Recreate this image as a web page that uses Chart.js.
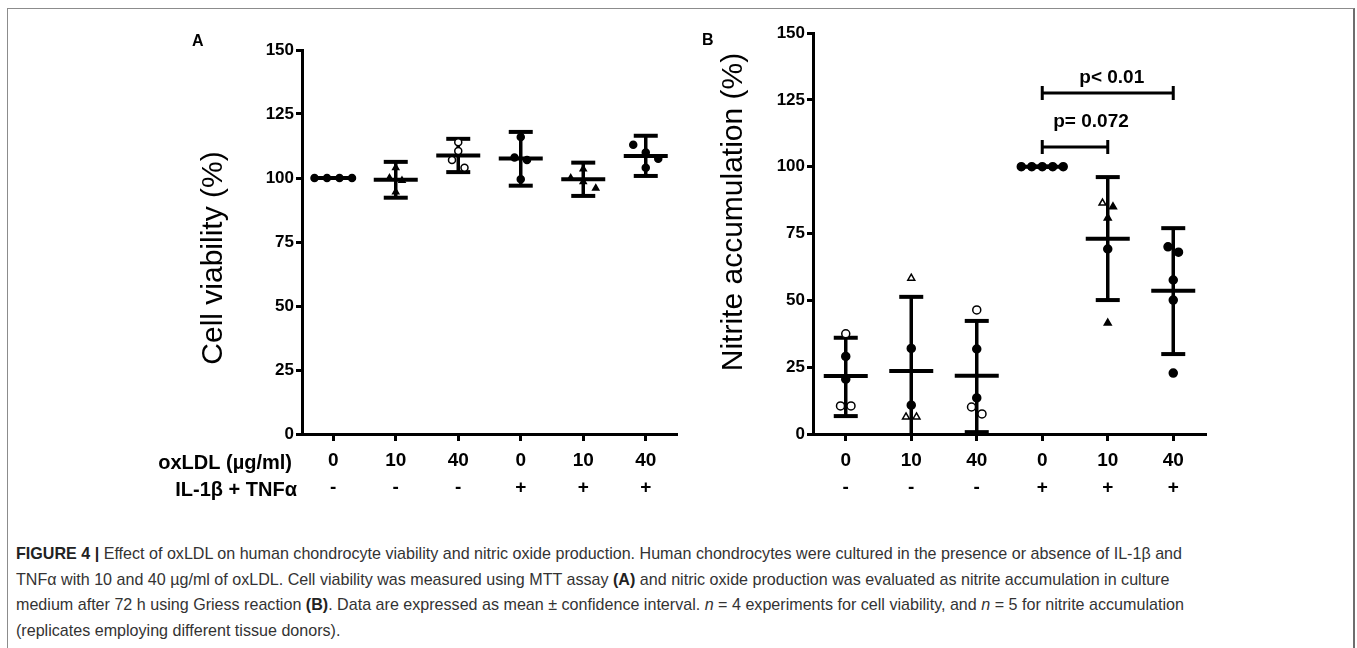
<!DOCTYPE html>
<html>
<head>
<meta charset="utf-8">
<script src="https://cdn.jsdelivr.net/npm/chart.js@4.4.1/dist/chart.umd.min.js"></script>
<style>
  html, body { margin: 0; padding: 0; background: #fff; }
  #page { position: relative; width: 1357px; height: 648px; overflow: hidden; font-family: "Liberation Sans", Arial, sans-serif; }
  #frame { position: absolute; left: 7px; top: 8px; width: 1345px; height: 700px; border: 1.5px solid #8c8c8c; border-right: 2px solid #6e6e6e; }
  .panel { position: absolute; }
  #panelA { left: 140px; top: 20px; width: 560px; height: 480px; }
  #panelB { left: 700px; top: 10px; width: 560px; height: 490px; }
  .letter { position: absolute; font: bold 16px "Liberation Sans", Arial, sans-serif; color: #000; }
  #caption { position: absolute; left: 16px; top: 541px; white-space: nowrap; color: #333;
    font-family: "Liberation Sans Narrow", "Arial Narrow", "Liberation Sans", sans-serif; font-size: 16.1px; line-height: 25.5px; }
  #caption b { color: #222; }
</style>
</head>
<body>
<div id="page">
  <div id="frame"></div>
  <div class="panel" id="panelA"><canvas id="chartA"></canvas></div>
  <div class="panel" id="panelB"><canvas id="chartB"></canvas></div>
  <div class="letter" style="left:192px; top:32px;">A</div>
  <div class="letter" style="left:702px; top:31px;">B</div>
  <div id="caption">
    <b>FIGURE 4 |</b> Effect of oxLDL on human chondrocyte viability and nitric oxide production. Human chondrocytes were cultured in the presence or absence of IL-1β and<br>
    TNFα with 10 and 40 µg/ml of oxLDL. Cell viability was measured using MTT assay <b>(A)</b> and nitric oxide production was evaluated as nitrite accumulation in culture<br>
    medium after 72 h using Griess reaction <b>(B)</b>. Data are expressed as mean ± confidence interval. <i>n</i> = 4 experiments for cell viability, and <i>n</i> = 5 for nitrite accumulation<br>
    (replicates employing different tissue donors).
  </div>
</div>
<script>
// x categories
const doseLabels = ['0', '10', '40', '0', '10', '40'];
const cytokineLabels = ['-', '-', '-', '+', '+', '+'];

// panel A: cell viability (%)
const viabilityPoints = [
  [100, 100, 100, 100],
  [104, 100, 99, 94.5],
  [114, 110.5, 107, 104],
  [116, 108, 107, 99.5],
  [103.5, 100, 98.5, 96],
  [113, 110, 107.5, 104]
];
const viabilityMean = [100, 99.3, 108.8, 107.6, 99.5, 108.6];
const viabilityLow = [100, 92.3, 102.3, 97, 93, 100.8];
const viabilityHigh = [100, 106.3, 115.3, 118, 106, 116.5];

// panel B: nitrite accumulation (%)
const nitritePoints = [
  [37.5, 29, 20.5, 10.5, 10.5],
  [58.3, 32, 10.8, 6.4, 6.4],
  [46.4, 31.8, 13.5, 10.1, 7.5],
  [100, 100, 100, 100, 100],
  [86.4, 85, 80.8, 69.2, 41.5],
  [70, 68, 57.6, 50.1, 22.8]
];
const nitriteMean = [21.7, 23.6, 21.8, 100, 73, 53.6];
const nitriteLow = [6.7, -4, 0.7, 100, 50.1, 29.9];
const nitriteHigh = [36, 51.3, 42.3, 100, 96.1, 77];

// significance brackets (group index from -> to, level in %)
const brackets = [
  { from: 3, to: 4, level: 107.4, text: 'p= 0.072' },
  { from: 3, to: 5, level: 127.6, text: 'p< 0.01' }
];

// marker shapes
const viabilityMarkers = [
  ['dot', 'dot', 'dot', 'dot'],
  ['tri', 'tri', 'tri', 'tri'],
  ['ring', 'ring', 'ring', 'ring'],
  ['dot', 'dot', 'dot', 'dot'],
  ['tri', 'tri', 'tri', 'tri'],
  ['dot', 'dot', 'dot', 'dot']
];
const nitriteMarkers = [
  ['ring', 'dot', 'dot', 'ring', 'ring'],
  ['triOpen', 'dot', 'dot', 'triOpen', 'triOpen'],
  ['ring', 'dot', 'dot', 'ring', 'ring'],
  ['dot', 'dot', 'dot', 'dot', 'dot'],
  ['triOpen', 'tri', 'tri', 'dot', 'tri'],
  ['dot', 'dot', 'dot', 'dot', 'dot']
];

const FONT = '"Liberation Sans", Arial, sans-serif';

// spread points with close values side by side, like a column scatter
function spread(values, step, thresh) {
  const order = values.map((v, i) => i).sort((a, b) => values[b] - values[a]);
  const off = new Array(values.length).fill(0);
  let cluster = [order[0]];
  const flush = () => {
    const k = cluster.length;
    cluster.forEach((j, n) => { off[j] = (n - (k - 1) / 2) * step; });
  };
  for (let n = 1; n < order.length; n++) {
    const last = cluster[cluster.length - 1];
    if (values[last] - values[order[n]] <= thresh) cluster.push(order[n]);
    else { flush(); cluster = [order[n]]; }
  }
  flush();
  return off;
}

function buildDataset(groups, markers, step, radius) {
  const data = [], styles = [], fills = [];
  groups.forEach((vals, g) => {
    const off = spread(vals, step, 3);
    vals.forEach((v, i) => {
      data.push({ x: g + off[i], y: v });
      const m = markers[g][i];
      styles.push(m === 'tri' || m === 'triOpen' ? 'triangle' : 'circle');
      fills.push(m === 'ring' || m === 'triOpen' ? '#fff' : '#000');
    });
  });
  return {
    data,
    pointStyle: styles,
    backgroundColor: fills,
    borderColor: '#000',
    borderWidth: 1.5,
    pointRadius: radius,
    showLine: false
  };
}

const errorBars = {
  id: 'errorBars',
  beforeDatasetsDraw(chart, args, opts) {
    const { ctx, scales: { x, y } } = chart;
    ctx.save();
    ctx.strokeStyle = '#000';
    opts.mean.forEach((m, i) => {
      const cx = x.getPixelForValue(i);
      const lo = y.getPixelForValue(Math.max(opts.low[i], 0));
      const hi = y.getPixelForValue(opts.high[i]);
      const my = y.getPixelForValue(m);
      ctx.lineWidth = 3.5;
      ctx.beginPath(); ctx.moveTo(cx, lo); ctx.lineTo(cx, hi); ctx.stroke();
      ctx.lineWidth = 4;
      ctx.beginPath(); ctx.moveTo(cx - 12, hi); ctx.lineTo(cx + 12, hi); ctx.stroke();
      if (opts.low[i] >= 0) {
        ctx.beginPath(); ctx.moveTo(cx - 12, lo); ctx.lineTo(cx + 12, lo); ctx.stroke();
      }
      ctx.beginPath(); ctx.moveTo(cx - 22, my); ctx.lineTo(cx + 22, my); ctx.stroke();
    });
    ctx.restore();
  },
  afterDraw(chart, args, opts) {
    const { ctx, scales: { x, y }, chartArea } = chart;
    ctx.save();
    ctx.fillStyle = '#000';
    // rotated y axis title
    ctx.font = '30px ' + FONT;
    ctx.translate(chartArea.left - opts.titleDx, opts.titleCy);
    ctx.rotate(-Math.PI / 2);
    ctx.textAlign = 'center';
    ctx.textBaseline = 'middle';
    ctx.fillText(opts.title, 0, 0);
    ctx.restore();

    if (opts.rowLabels) {
      ctx.save();
      ctx.font = 'bold 20px ' + FONT;
      ctx.textAlign = 'right';
      ctx.textBaseline = 'alphabetic';
      ctx.fillText(opts.rowLabels[0], chartArea.left - 10, chartArea.bottom + 35);
      ctx.fillText(opts.rowLabels[1], chartArea.left - 5, chartArea.bottom + 62);
      ctx.restore();
    }

    if (opts.brackets) {
      ctx.save();
      ctx.strokeStyle = '#000';
      ctx.fillStyle = '#000';
      ctx.lineWidth = 3;
      ctx.font = 'bold 19px ' + FONT;
      ctx.textAlign = 'center';
      ctx.textBaseline = 'alphabetic';
      opts.brackets.forEach((b) => {
        const x1 = x.getPixelForValue(b.from), x2 = x.getPixelForValue(b.to);
        const by = y.getPixelForValue(b.level);
        ctx.beginPath();
        ctx.moveTo(x1, by - 7); ctx.lineTo(x1, by + 7);
        ctx.moveTo(x1, by); ctx.lineTo(x2, by);
        ctx.moveTo(x2, by - 7); ctx.lineTo(x2, by + 7);
        ctx.stroke();
        ctx.fillText(b.text, (x1 + x2) / 2 + (b.to - b.from === 1 ? 16 : 4), by - (b.to - b.from === 1 ? 20 : 10));
      });
      ctx.restore();
    }
  }
};

function makeChart(id, groups, markers, mean, low, high, cfg) {
  return new Chart(document.getElementById(id), {
    type: 'scatter',
    data: { datasets: [buildDataset(groups, markers, cfg.step, cfg.radius)] },
    options: {
      responsive: true,
      maintainAspectRatio: false,
      animation: false,
      layout: { padding: { top: cfg.padTop, right: cfg.padRight, left: 0, bottom: 0 } },
      scales: {
        x: {
          type: 'linear',
          min: -0.5,
          max: 5.5,
          afterBuildTicks: (s) => { s.ticks = doseLabels.map((d, i) => ({ value: i })); },
          afterFit: (s) => { s.height = cfg.xHeight; },
          grid: { drawOnChartArea: false, drawTicks: true, tickLength: 7, tickWidth: 3, tickColor: '#000' },
          border: { display: true, width: 3, color: '#000' },
          ticks: {
            autoSkip: false,
            maxRotation: 0,
            padding: 6,
            color: '#000',
            font: { family: FONT, size: 19, weight: 'bold', lineHeight: 1.42 },
            callback: (v) => [doseLabels[v], cytokineLabels[v]]
          }
        },
        y: {
          min: 0,
          max: 150,
          afterFit: (s) => { s.width = cfg.yWidth; },
          grid: { drawOnChartArea: false, drawTicks: true, tickLength: 6, tickWidth: 3, tickColor: '#000' },
          border: { display: true, width: 3, color: '#000' },
          ticks: {
            stepSize: 25,
            padding: 2,
            color: '#000',
            font: { family: FONT, size: 17, weight: 'bold' }
          }
        }
      },
      plugins: {
        legend: { display: false },
        tooltip: { enabled: false },
        errorBars: {
          mean, low, high,
          title: cfg.title,
          titleDx: cfg.titleDx,
          titleCy: cfg.titleCy,
          rowLabels: cfg.rowLabels,
          brackets: cfg.brackets
        }
      }
    },
    plugins: [errorBars]
  });
}

makeChart('chartA', viabilityPoints, viabilityMarkers, viabilityMean, viabilityLow, viabilityHigh, {
  step: 0.2, radius: 3.5, padTop: 30, padRight: 23, xHeight: 66, yWidth: 162,
  title: 'Cell viability (%)', titleDx: 88, titleCy: 238,
  rowLabels: ['oxLDL (µg/ml)', 'IL-1β + TNFα']
});

makeChart('chartB', nitritePoints, nitriteMarkers, nitriteMean, nitriteLow, nitriteHigh, {
  step: 0.16, radius: 4, padTop: 23, padRight: 54, xHeight: 66, yWidth: 113,
  title: 'Nitrite accumulation (%)', titleDx: 79, titleCy: 202,
  brackets: brackets
});
</script>
</body>
</html>
